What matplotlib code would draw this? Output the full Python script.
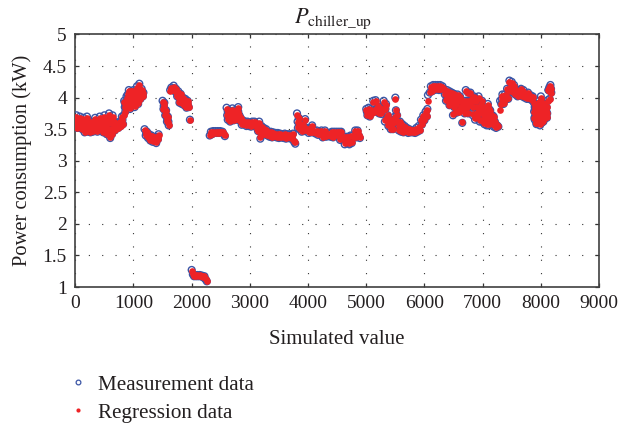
import matplotlib
matplotlib.use('Agg')
import matplotlib.pyplot as plt
from matplotlib.lines import Line2D

plt.rcParams['font.family'] = ['Liberation Serif', 'DejaVu Serif']
plt.rcParams['mathtext.fontset'] = 'stix'

# values, one row per stretch of the curve
x_data = [
    0,20,40,60,80,100,120,140,160,180,200,220,240,260,280,300,320,340,360,380,400,420,440,460,480,500,520,540,560,580,
    600,620,640,660,680,700,720,740,760,780,800,820,840,860,880,900,920,940,960,980,1000,1020,1040,1060,1080,1100,1120,1140,1160,
    1190,1210,1230,1250,1270,1290,1310,1330,1350,1370,1390,1410,1430,
    1500,1515,1530,1545,1560,1575,1590,1605,
    1630,1650,1670,1690,1710,1730,1750,1770,1790,1810,1830,1850,1870,1890,1910,1930,1950,1970,
    2000,2020,2040,2060,2080,2100,2120,2140,2160,2180,2200,2220,2240,2260,
    2310,2330,2350,2370,2390,2410,2430,2450,2470,2490,2510,2530,2550,2570,
    2600,2620,2640,2660,2680,2700,2720,2740,2760,2780,2800,2820,2840,2860,2880,2900,2920,2940,2960,2980,3000,3020,3040,3060,3080,3100,
    3120,3140,3160,3180,3200,3220,3240,3260,3280,3300,3320,3340,3360,3380,3400,3420,3440,3460,3480,3500,3520,3540,3560,3580,3600,3620,3640,3660,3680,3700,3720,3740,3760,3780,
    3810,3825,3840,3855,3870,3890,3910,3930,3950,3970,3990,4010,4030,4050,4070,4090,4110,4130,4150,4170,4190,4210,4230,4250,4270,4290,4310,4330,4350,4370,4390,
    4410,4430,4450,4470,4490,4510,4530,4550,4570,4590,4610,4630,4650,4670,4690,4710,4730,4750,4770,4790,4810,4830,4850,4870,4890,
    5000,5020,5040,5060,5080,5100,5120,5140,5160,5180,5200,5220,5240,5260,5280,5300,5320,5340,5360,5380,5400,5420,5440,5460,5480,5500,5510,5520,5540,5560,5580,5600,5620,5640,5660,5680,5700,5720,5740,5760,5780,5800,5820,5840,5860,5880,5900,5920,5940,5960,5980,6000,6020,6040,6050,
    6060,
    6090,6110,6130,6150,6170,6190,6210,6230,6250,6270,6290,6310,6330,6350,6370,6390,6410,6430,6450,6470,6490,6510,6530,6550,6570,6590,6610,6630,6650,6670,6690,6710,6730,6750,6770,6790,6810,6830,6850,6870,6890,6910,6930,6950,6970,6990,7010,7030,7050,7070,7090,7110,7130,7150,7170,7190,7210,7230,7250,7270,
    7300,7320,7340,7360,7380,7400,7420,7440,7460,7480,7500,7520,7540,7560,7580,7600,7620,7640,7660,7680,7700,7720,7740,7760,7780,7800,7820,7840,7860,
    7880,7895,7910,7925,7940,7955,7970,7985,8000,8015,8030,8045,8060,8075,8090,8105,8120,8135,8150,8165,8180,
]
measured = [
    3.55,3.72,3.62,3.52,3.7,3.6,3.5,3.68,3.45,3.6,3.7,3.46,3.6,3.45,3.55,3.46,3.58,3.68,3.5,3.46,3.6,3.7,3.5,3.62,3.45,3.72,3.55,3.42,3.6,3.75,
    3.36,3.6,3.72,3.52,3.48,3.6,3.55,3.52,3.62,3.55,3.7,3.58,3.95,3.78,4.02,3.85,4.12,3.82,4.05,3.9,4.12,3.85,3.98,4.18,3.9,4.22,3.98,4.14,4.02,
    3.5,3.4,3.46,3.36,3.42,3.32,3.4,3.3,3.37,3.32,3.28,3.38,3.42,
    3.95,3.82,3.92,3.72,3.8,3.62,3.7,3.56,
    4.12,4.16,4.12,4.19,4.1,4.14,4.02,4.1,3.92,4.06,3.9,4.0,3.88,3.98,3.84,3.95,3.85,3.65,
    1.27,1.2,1.17,1.19,1.17,1.19,1.17,1.19,1.17,1.18,1.15,1.17,1.12,1.09,
    3.4,3.46,3.42,3.47,3.44,3.47,3.44,3.47,3.44,3.47,3.45,3.46,3.42,3.39,
    3.84,3.65,3.8,3.62,3.75,3.83,3.64,3.8,3.65,3.75,3.85,3.64,3.68,3.57,3.64,3.58,3.62,3.55,3.62,3.55,3.6,3.54,3.62,3.56,3.62,3.56,
    3.52,3.47,3.62,3.35,3.55,3.42,3.52,3.42,3.5,3.4,3.46,3.38,3.46,3.37,3.45,3.38,3.44,3.37,3.44,3.36,3.43,3.37,3.42,3.36,3.43,3.35,3.42,3.36,3.42,3.35,3.38,3.43,3.3,3.27,
    3.75,3.52,3.68,3.5,3.6,3.46,3.58,3.47,3.66,3.48,3.52,3.44,3.52,3.45,3.56,3.45,3.48,3.43,3.48,3.41,3.46,3.42,3.48,3.37,3.42,3.48,3.38,3.44,3.39,3.44,3.38,
    3.46,3.37,3.46,3.4,3.46,3.4,3.46,3.33,3.46,3.35,3.38,3.26,3.38,3.28,3.38,3.26,3.4,3.28,3.4,3.37,3.48,3.37,3.48,3.4,3.36,
    3.82,3.72,3.84,3.7,3.82,3.76,3.95,3.78,3.96,3.78,3.84,3.75,3.84,3.74,3.82,3.95,3.62,3.9,3.68,3.55,3.66,3.5,3.65,3.5,3.62,4.0,3.8,3.62,3.62,3.48,3.62,3.46,3.58,3.45,3.55,3.46,3.52,3.44,3.5,3.45,3.48,3.45,3.48,3.44,3.52,3.46,3.55,3.48,3.65,3.58,3.72,3.64,3.78,3.7,3.82,
    4.04,
    4.08,4.18,4.1,4.2,4.12,4.2,4.13,4.2,4.12,4.2,4.13,4.18,4.14,4.05,3.95,4.12,3.98,4.1,3.98,4.08,3.72,4.06,3.9,3.76,4.05,3.8,4.02,3.85,3.6,3.95,3.75,4.12,3.85,4.08,3.95,4.08,3.98,3.72,4.02,3.65,3.95,3.68,4.02,3.62,3.9,3.62,3.8,3.58,3.68,3.56,3.9,3.56,3.8,3.62,3.72,3.54,3.62,3.52,3.56,3.54,
    3.95,3.9,4.05,3.9,4.05,3.98,4.14,3.98,4.27,4.12,4.25,4.08,4.2,4.05,4.12,4.02,4.12,4.04,4.14,4.02,4.12,4.0,4.06,3.98,4.08,3.98,4.04,3.96,4.02,
    3.92,3.65,3.85,3.58,3.8,3.62,3.95,3.56,4.02,3.6,3.92,3.62,3.9,3.68,3.82,3.68,3.96,4.12,3.98,4.2,4.08,
]
regression = [
    3.56,3.7,3.61,3.53,3.68,3.61,3.51,3.66,3.46,3.6,3.68,3.47,3.59,3.46,3.55,3.47,3.57,3.66,3.5,3.47,3.6,3.68,3.5,3.61,3.46,3.7,3.55,3.43,3.6,3.73,
    3.38,3.6,3.7,3.52,3.49,3.6,3.55,3.52,3.61,3.55,3.69,3.58,3.93,3.78,4.0,3.85,4.1,3.83,4.04,3.9,4.1,3.86,3.98,4.16,3.91,4.2,3.98,4.12,4.02,
    3.49,3.41,3.46,3.37,3.41,3.33,3.39,3.32,3.37,3.33,3.3,3.37,3.41,
    3.93,3.82,3.91,3.73,3.79,3.63,3.69,3.57,
    4.11,4.15,4.12,4.17,4.1,4.13,4.02,4.09,3.93,4.05,3.91,3.99,3.89,3.97,3.85,3.94,3.85,3.65,
    1.26,1.2,1.18,1.19,1.18,1.19,1.18,1.19,1.18,1.18,1.16,1.17,1.13,1.1,
    3.41,3.46,3.43,3.46,3.44,3.46,3.44,3.46,3.44,3.46,3.45,3.45,3.42,3.4,
    3.82,3.66,3.78,3.63,3.74,3.81,3.65,3.79,3.66,3.75,3.83,3.65,3.67,3.58,3.63,3.58,3.61,3.56,3.61,3.56,3.59,3.55,3.61,3.57,3.61,3.57,
    3.51,3.47,3.6,3.37,3.54,3.43,3.51,3.43,3.49,3.41,3.45,3.39,3.45,3.38,3.44,3.39,3.43,3.38,3.43,3.37,3.42,3.38,3.41,3.37,3.42,3.36,3.41,3.37,3.41,3.36,3.38,3.42,3.31,3.29,
    3.73,3.53,3.67,3.51,3.59,3.47,3.57,3.48,3.64,3.49,3.51,3.45,3.51,3.46,3.55,3.46,3.47,3.44,3.47,3.42,3.45,3.43,3.47,3.38,3.42,3.47,3.39,3.43,3.4,3.43,3.39,
    3.45,3.38,3.45,3.41,3.45,3.41,3.45,3.34,3.45,3.36,3.38,3.28,3.38,3.29,3.38,3.28,3.39,3.29,3.39,3.38,3.47,3.38,3.47,3.4,3.37,
    3.8,3.73,3.82,3.71,3.81,3.76,3.93,3.79,3.94,3.79,3.83,3.76,3.83,3.75,3.81,3.93,3.64,3.88,3.69,3.56,3.65,3.51,3.64,3.51,3.62,3.98,3.8,3.63,3.62,3.49,3.61,3.47,3.57,3.46,3.54,3.47,3.51,3.45,3.5,3.45,3.48,3.45,3.48,3.45,3.51,3.47,3.54,3.49,3.64,3.59,3.71,3.65,3.77,3.71,3.81,
    3.95,
    4.09,4.17,4.11,4.19,4.13,4.19,4.14,4.19,4.13,4.19,4.14,4.17,4.14,4.05,3.96,4.11,3.99,4.09,3.99,4.07,3.74,4.05,3.9,3.77,4.04,3.81,4.01,3.85,3.62,3.94,3.76,4.1,3.86,4.07,3.95,4.07,3.98,3.74,4.01,3.67,3.94,3.69,4.0,3.64,3.89,3.64,3.79,3.6,3.67,3.58,3.88,3.58,3.79,3.63,3.71,3.56,3.61,3.54,3.56,3.55,
    3.8,3.9,4.03,3.91,4.04,3.98,4.13,3.99,4.25,4.12,4.23,4.09,4.18,4.05,4.11,4.03,4.11,4.05,4.13,4.03,4.11,4.01,4.05,3.99,4.07,3.99,4.03,3.97,4.01,
    3.91,3.67,3.84,3.6,3.79,3.63,3.93,3.58,4.0,3.62,3.91,3.63,3.89,3.69,3.81,3.69,3.95,4.1,3.98,4.18,4.08,
]

# more samples inside the thick parts of the band, where both series sit on top of each other
extra_x = [
    10,50,90,130,170,210,250,290,330,370,410,450,490,530,570,610,650,690,730,770,
    30,70,110,150,190,230,270,310,350,390,430,470,510,550,590,630,670,710,750,790,
    810,830,850,870,890,910,930,950,970,990,1010,1030,1050,1070,1090,1110,1130,1150,1170,
    850,880,910,940,970,1000,1030,1060,1090,1120,1150,
    870,900,930,960,990,1020,1050,1080,1110,1140,
    1220,1260,1300,1340,1380,1420,
    1520,1540,1560,1580,1600,
    1690,1720,1750,1780,1810,1840,1870,1900,1930,
    2610,2640,2670,2700,2730,2760,2790,2820,2850,
    2620,2650,2680,2710,2740,2770,2800,2830,
    3170,3190,3210,3230,3250,3820,3850,3880,3910,3940,
    5010,5050,5090,5130,5170,5210,5250,5290,5330,5370,5410,5450,5490,5530,5570,
    6380,6420,6460,6500,6540,6580,6620,6660,6700,6740,6780,6820,6860,6900,6940,6980,7020,7060,7100,7140,7180,7220,
    6390,6430,6470,6510,6550,6590,6630,6670,6710,6750,6790,6830,6870,6910,6950,6990,7030,7070,7110,7150,7190,
    7330,7370,7410,7450,7490,7530,7570,7610,7650,7690,7730,7770,7810,7850,
    7885,7900,7915,7930,7945,7960,7975,7990,8005,8020,8035,8050,8065,8080,8095,8110,
    7890,7905,7920,7935,7950,7965,7980,7995,8010,8025,8040,8055,8070,8085,8100,
    7895,7910,7925,7940,7955,7970,7985,8000,8015,8030,8045,8060,8075,8090,
    8130,8145,8160,8175,
]
extra_y = [
    3.62,3.6,3.62,3.58,3.55,3.58,3.52,3.56,3.62,3.55,3.56,3.56,3.58,3.5,3.5,3.5,3.62,3.55,3.58,3.58,
    3.52,3.55,3.52,3.52,3.62,3.52,3.62,3.6,3.55,3.55,3.62,3.55,3.65,3.62,3.65,3.42,3.62,3.55,3.54,3.62,
    3.65,3.72,3.85,3.92,3.9,3.95,3.9,3.95,3.95,3.98,4.0,3.95,4.05,4.05,4.05,4.05,4.05,4.05,4.08,
    3.92,3.9,4.0,3.88,3.98,3.9,3.92,3.95,3.98,4.1,4.08,
    3.85,4.05,4.0,4.1,4.02,3.98,4.1,4.1,4.12,4.02,
    3.44,3.38,3.36,3.34,3.36,3.34,
    3.87,3.8,3.72,3.66,3.62,
    4.15,4.12,4.06,4.0,3.98,3.95,3.94,3.92,3.9,
    3.72,3.72,3.7,3.72,3.72,3.72,3.74,3.72,3.62,
    3.78,3.65,3.68,3.78,3.68,3.7,3.78,3.65,
    3.5,3.45,3.42,3.5,3.45,3.62,3.58,3.56,3.52,3.52,
    3.78,3.76,3.78,3.78,3.82,3.86,3.8,3.82,3.82,3.72,3.6,3.58,3.7,3.72,3.55,
    4.05,3.95,4.02,3.92,4.0,3.95,3.85,3.9,3.85,3.85,3.95,3.98,3.95,3.85,3.82,3.78,3.72,3.72,3.68,3.72,3.62,3.58,
    3.98,3.88,3.95,3.85,3.9,3.78,3.95,3.8,3.95,3.75,3.88,3.85,4.0,3.75,3.75,3.95,3.85,3.78,3.82,3.66,3.7,
    3.98,3.98,4.02,4.1,4.18,4.15,4.12,4.08,4.08,4.08,4.06,4.04,4.02,4.0,
    3.78,3.82,3.72,3.85,3.68,3.9,3.75,3.9,3.72,3.82,3.72,3.85,3.75,3.78,3.78,3.75,
    3.68,3.7,3.68,3.7,3.72,3.75,3.68,3.8,3.7,3.78,3.68,3.74,3.85,3.72,3.85,
    3.85,3.76,3.6,3.76,3.66,3.65,3.85,3.66,3.85,3.66,3.8,3.78,3.68,3.76,
    4.12,4.16,4.14,4.14,
]

x_ticks = [0, 1000, 2000, 3000, 4000, 5000, 6000, 7000, 8000, 9000]
y_ticks = [1, 1.5, 2, 2.5, 3, 3.5, 4, 4.5, 5]
y_labels = ['1', '1.5', '2', '2.5', '3', '3.5', '4', '4.5', '5']

blue = '#3b55a5'
red = '#ee2326'

fig = plt.figure(figsize=(6.23, 4.23), dpi=100)
ax = fig.add_axes([75.3/623, 1-287/423, (599-75.3)/623, (287-34.5)/423])

ax.scatter(x_data + extra_x, measured + extra_y, s=24, facecolors='none', edgecolors=blue, linewidths=1.0, zorder=3)
ax.scatter(x_data + extra_x, regression + extra_y, s=23, color=red, linewidths=0, zorder=4)

ax.set_xlim(0, 9000)
ax.set_ylim(1, 5)
ax.set_xticks(x_ticks)
ax.set_yticks(y_ticks)
ax.set_yticklabels(y_labels)
ax.grid(True, color='#333333', linewidth=0.8, linestyle=(0, (1, 11)))
ax.set_axisbelow(True)
ax.tick_params(direction='in', top=True, right=True, length=3, width=0.9, color='#333333',
               labelsize=14, labelcolor='#231f20', pad=6)
for s in ax.spines.values():
    s.set_linewidth(1.2)
    s.set_color('#404040')

ax.set_xlabel('Simulated value', fontsize=15, color='#231f20', labelpad=13)
ax.set_ylabel('Power consumption (kW)', fontsize=14.8, color='#231f20', labelpad=8)
ax.set_title(r'$P_{\mathrm{chiller\_up}}$', fontsize=16, color='#231f20', pad=8, x=0.492)

handles = [
    Line2D([], [], linestyle='none', marker='o', markersize=3.4, markerfacecolor='none',
           markeredgecolor=blue, markeredgewidth=0.9),
    Line2D([], [], linestyle='none', marker='o', markersize=3.0, markerfacecolor=red,
           markeredgewidth=0),
]
fig.legend(handles, ['Measurement data', 'Regression data'], loc='upper left',
           bbox_to_anchor=(62/623, 1-375/423), frameon=False, fontsize=15.2, labelcolor='#231f20',
           handlelength=1.5, handletextpad=0.2, labelspacing=0.38, borderpad=0, borderaxespad=0)

fig.savefig('out.png', dpi=100)
